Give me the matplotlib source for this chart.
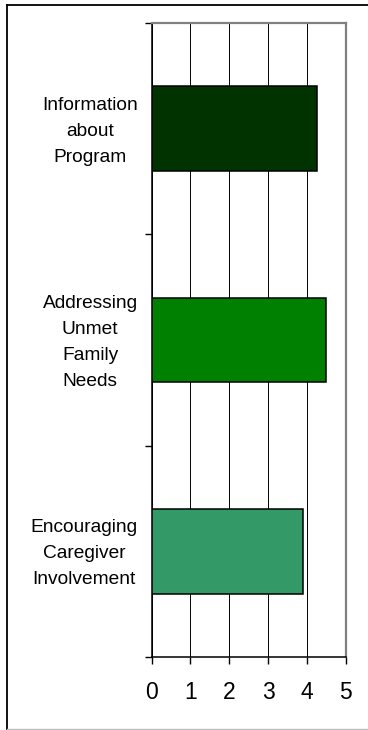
import matplotlib
matplotlib.use("Agg")
import matplotlib.pyplot as plt
import matplotlib.transforms as mtransforms
from matplotlib.lines import Line2D

categories = ["Information\nabout\nProgram",
              "Addressing\nUnmet\nFamily\nNeeds",
              "Encouraging\nCaregiver\nInvolvement"]
scores = [4.27, 4.49, 3.89]
bar_colors = ["#003300", "#008000", "#339966"]
x_ticks = [0, 1, 2, 3, 4, 5]

plt.rcParams['font.family'] = ['Liberation Sans', 'DejaVu Sans']

fig = plt.figure(figsize=(3.68, 7.30), dpi=100)
ax = fig.add_axes([151.5 / 368, 1 - 657 / 730, 194.2 / 368, 634 / 730])

pos = list(range(len(categories)))
ax.barh(pos, scores, height=0.4, color=bar_colors, edgecolor="black",
        linewidth=1.1, zorder=3)

ax.set_xlim(0, 5)
ax.set_ylim(2.5, -0.5)

# x axis
ax.set_xticks(x_ticks)
ax.set_xticklabels([str(t) for t in x_ticks], fontsize=16.5)
ax.tick_params(axis="x", direction="out", length=5, width=1, color="black", pad=12)
ax.grid(axis="x", color="black", linewidth=0.7, zorder=1)

# y axis: ticks on category boundaries, labels in the middle
ax.set_yticks([-0.5, 0.5, 1.5, 2.5])
ax.set_yticklabels([])
ax.tick_params(axis="y", which="major", direction="out", length=5, width=1, color="black")
ax.set_yticks(pos, minor=True)
ax.set_yticklabels(categories, minor=True, fontsize=13.8, ha="right",
                   multialignment="center", linespacing=1.7)
ax.tick_params(axis="y", which="minor", length=0, pad=10)
# nudge the category labels up a little
shift = mtransforms.ScaledTranslation(0, 4 / 100, fig.dpi_scale_trans)
for lbl in ax.get_yticklabels(minor=True):
    lbl.set_transform(lbl.get_transform() + shift)

for s in ["left", "bottom"]:
    ax.spines[s].set_color("black")
    ax.spines[s].set_linewidth(1.1)
for s in ["top", "right"]:
    ax.spines[s].set_color("#808080")
    ax.spines[s].set_linewidth(1.6)

# outer frame of the chart object
fig.add_artist(Line2D([7 / 368, 7 / 368], [0.5 / 730, 1 - 5 / 730], color="black",
                      linewidth=1.3, transform=fig.transFigure))
fig.add_artist(Line2D([7 / 368, 1], [1 - 5 / 730, 1 - 5 / 730], color="black",
                      linewidth=1.3, transform=fig.transFigure))
fig.add_artist(Line2D([7 / 368, 1], [1.5 / 730, 1.5 / 730], color="#c0c0c0",
                      linewidth=1.0, transform=fig.transFigure))

fig.savefig("out.png", dpi=100)
